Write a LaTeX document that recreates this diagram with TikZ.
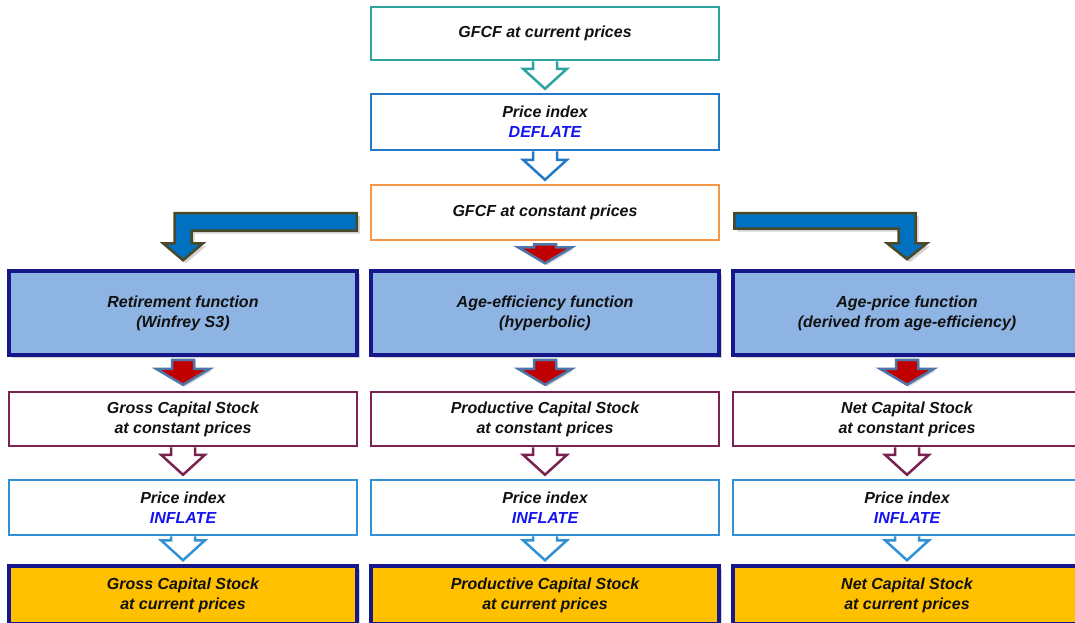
\documentclass[tikz,border=0pt]{standalone}
\usepackage{fontspec}
\setmainfont{Liberation Sans}
\usetikzlibrary{calc, shadows}
\definecolor{teal-border}{HTML}{2FA3A0}
\definecolor{deflate-border}{HTML}{2479C6}
\definecolor{orange-border}{HTML}{F79646}
\definecolor{func-fill}{HTML}{8EB4E3}
\definecolor{navy-border}{HTML}{17178C}
\definecolor{maroon-border}{HTML}{7A2250}
\definecolor{inflate-border}{HTML}{3290D4}
\definecolor{gold-fill}{HTML}{FFC000}
\definecolor{bent-fill}{HTML}{0070C0}
\definecolor{bent-border}{HTML}{4A4A28}
\definecolor{red-fill}{HTML}{C00000}
\definecolor{red-border}{HTML}{4F74A8}
\definecolor{key-blue}{HTML}{1414F0}
\definecolor{label-color}{HTML}{111111}
\tikzset{
  flow-box/.style={
    draw, fill=white, line width=2.5pt, minimum width=348pt, inner sep=0pt,
    align=center, text=label-color,
    font=\fontsize{16}{20}\selectfont\bfseries\itshape
  },
  func-box/.style={
    flow-box, fill=func-fill, draw=navy-border, line width=3.5pt, minimum height=84pt,
    drop shadow={shadow xshift=3pt, shadow yshift=-3pt, opacity=0.35}
  },
  result-box/.style={
    flow-box, fill=gold-fill, draw=navy-border, line width=3.5pt, minimum height=58pt,
    drop shadow={shadow xshift=3pt, shadow yshift=-3pt, opacity=0.35}
  },
  hollow-arrow/.style={line width=2.5pt, line join=miter},
  red-arrow/.style={fill=red-fill, draw=red-border, line width=2.5pt,
    drop shadow={shadow xshift=2pt, shadow yshift=-2pt, opacity=0.3}},
  bent-arrow/.style={fill=bent-fill, draw=bent-border, line width=2.5pt,
    drop shadow={shadow xshift=3pt, shadow yshift=-3pt, opacity=0.35}}
}
% open block arrow from one box down to the next
\newcommand{\hollowarrow}[3][]{%
  \draw[hollow-arrow, #1] let \p1=(#2.south), \p2=(#3.north) in
    (\x1-12pt,\y1) -- (\x1-12pt,\y2+24pt) -- (\x1-22pt,\y2+24pt) -- (\x1,\y2+4pt)
    -- (\x1+22pt,\y2+24pt) -- (\x1+12pt,\y2+24pt) -- (\x1+12pt,\y1);}
% filled red block arrow
\newcommand{\solidarrow}[2]{%
  \draw[red-arrow] let \p1=(#1.south), \p2=(#2.north) in
    (\x1-11pt,\y1-3pt) -- (\x1-11pt,\y2+22pt) -- (\x1-27pt,\y2+22pt) -- (\x1,\y2+6pt)
    -- (\x1+27pt,\y2+22pt) -- (\x1+11pt,\y2+22pt) -- (\x1+11pt,\y1-3pt) -- cycle;}

\begin{document}
\begin{tikzpicture}[x=1pt, y=-1pt]
  \clip (0,0) rectangle (1075,622);

  \node[flow-box, draw=teal-border, minimum height=53pt] (gfcf-current) at (545, 33.5) {GFCF at current prices};
  \node[flow-box, draw=deflate-border, minimum height=56pt] (deflate) at (545, 122) {Price index\\\textcolor{key-blue}{DEFLATE}};
  \node[flow-box, draw=orange-border, minimum height=55pt] (gfcf-const) at (545, 212.5) {GFCF at constant prices};

  \node[func-box] (retirement) at (183, 313) {Retirement function\\(Winfrey S3)};
  \node[func-box] (age-eff)    at (545, 313) {Age-efficiency function\\(hyperbolic)};
  \node[func-box] (age-price)  at (907, 313) {Age-price function\\(derived from age-efficiency)};

  \node[flow-box, draw=maroon-border, minimum height=54pt] (gross-const) at (183, 419) {Gross Capital Stock\\at constant prices};
  \node[flow-box, draw=maroon-border, minimum height=54pt] (prod-const)  at (545, 419) {Productive Capital Stock\\at constant prices};
  \node[flow-box, draw=maroon-border, minimum height=54pt] (net-const)   at (907, 419) {Net Capital Stock\\at constant prices};

  \node[flow-box, draw=inflate-border, minimum height=55pt] (inflate-gross) at (183, 507.5) {Price index\\\textcolor{key-blue}{INFLATE}};
  \node[flow-box, draw=inflate-border, minimum height=55pt] (inflate-prod)  at (545, 507.5) {Price index\\\textcolor{key-blue}{INFLATE}};
  \node[flow-box, draw=inflate-border, minimum height=55pt] (inflate-net)   at (907, 507.5) {Price index\\\textcolor{key-blue}{INFLATE}};

  \node[result-box] (gross-current) at (183, 595) {Gross Capital Stock\\at current prices};
  \node[result-box] (prod-current)  at (545, 595) {Productive Capital Stock\\at current prices};
  \node[result-box] (net-current)   at (907, 595) {Net Capital Stock\\at current prices};

  \hollowarrow[teal-border]{gfcf-current}{deflate}
  \hollowarrow[deflate-border]{deflate}{gfcf-const}
  \solidarrow{gfcf-const}{age-eff}

  % bent arrows to the outer columns
  \draw[bent-arrow] let \p1=(gfcf-const.west), \p2=(retirement.north) in
    (\x1-13pt,\y1-0.5pt) -- (\x1-13pt,\y1-18pt) -- (\x2+8.5pt,\y1-18pt) -- (\x2+8.5pt,\y2+26pt)
    -- (\x2+20pt,\y2+26pt) -- (\x2,\y2+9pt) -- (\x2-20pt,\y2+26pt) -- (\x2-8.5pt,\y2+26pt)
    -- (\x2-8.5pt,\y1-0.5pt) -- cycle;
  \draw[bent-arrow] let \p1=(gfcf-const.east), \p2=(age-price.north) in
    (\x1+14pt,\y1-0.5pt) -- (\x1+14pt,\y1-16pt) -- (\x2-8.5pt,\y1-16pt) -- (\x2-8.5pt,\y2+26pt)
    -- (\x2-20pt,\y2+26pt) -- (\x2,\y2+10pt) -- (\x2+20pt,\y2+26pt) -- (\x2+8.5pt,\y2+26pt)
    -- (\x2+8.5pt,\y1-0.5pt) -- cycle;

  \solidarrow{retirement}{gross-const}
  \solidarrow{age-eff}{prod-const}
  \solidarrow{age-price}{net-const}

  \hollowarrow[maroon-border]{gross-const}{inflate-gross}
  \hollowarrow[maroon-border]{prod-const}{inflate-prod}
  \hollowarrow[maroon-border]{net-const}{inflate-net}
  \hollowarrow[inflate-border]{inflate-gross}{gross-current}
  \hollowarrow[inflate-border]{inflate-prod}{prod-current}
  \hollowarrow[inflate-border]{inflate-net}{net-current}
\end{tikzpicture}
\end{document}
